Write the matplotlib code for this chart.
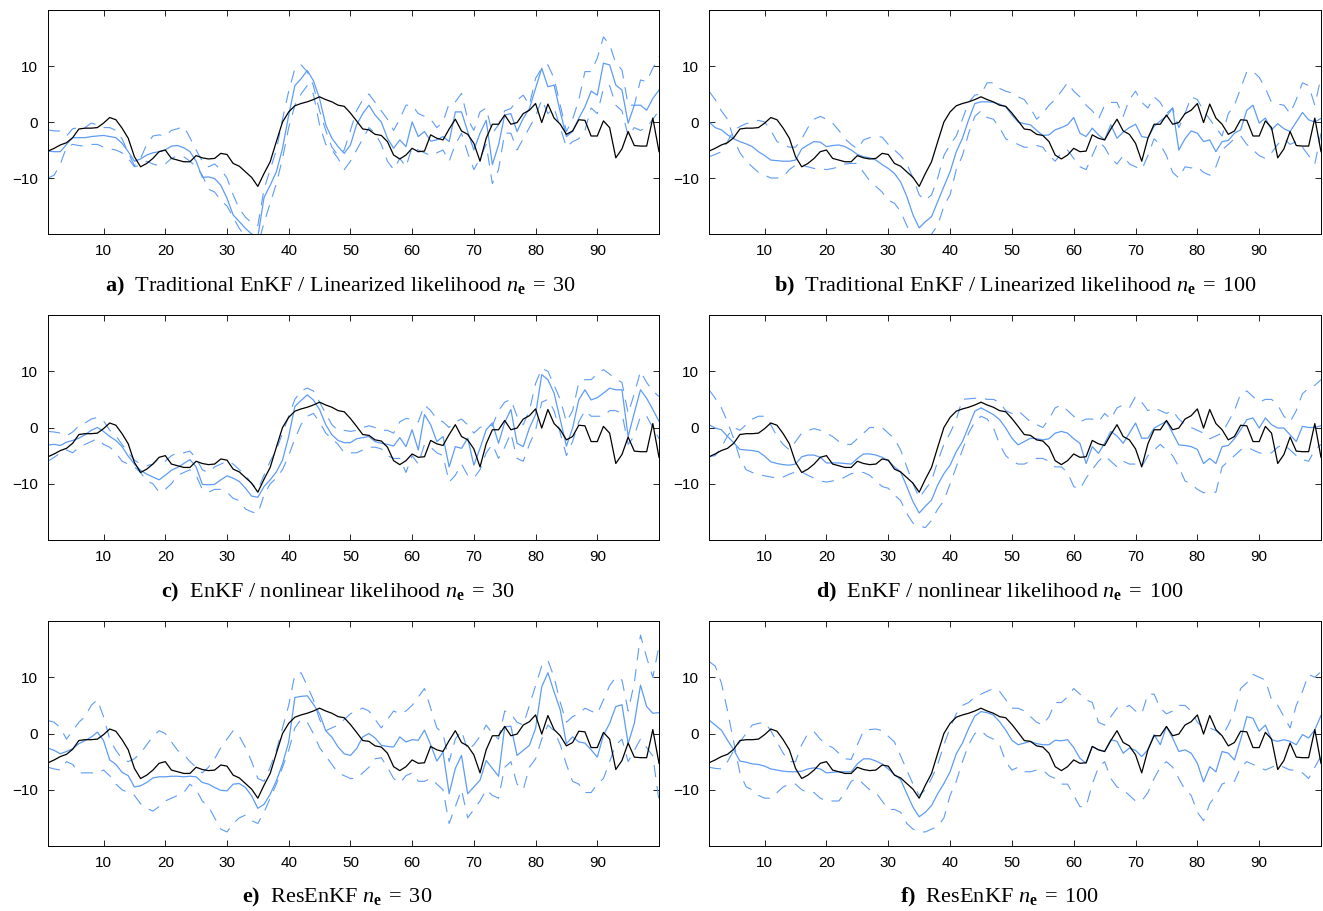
import matplotlib
matplotlib.use("Agg")
import matplotlib.pyplot as plt
import numpy as np

plt.rcParams['font.family'] = ['Liberation Sans', 'DejaVu Sans']
plt.rcParams['mathtext.fontset'] = 'custom'
plt.rcParams['mathtext.rm'] = 'Liberation Serif'
plt.rcParams['mathtext.it'] = 'Liberation Serif:italic'
plt.rcParams['mathtext.bf'] = 'Liberation Serif:bold'

x = np.arange(1, 101)

truth = [
    -5.2, -4.7, -4.1, -3.7, -2.8, -1.25, -1.1, -1.1, -1.0, -0.2,
    0.8, 0.4, -1.1, -2.9, -6.2, -8.0, -7.4, -6.5, -5.3, -5.0,
    -6.5, -6.8, -7.1, -7.1, -6.0, -6.4, -6.6, -6.5, -5.6, -5.8,
    -7.4, -7.9, -8.9, -9.9, -11.5, -9.2, -7.1, -3.5, 0.0, 1.8,
    2.9, 3.3, 3.6, 4.0, 4.5, 4.0, 3.6, 3.0, 2.8, 1.6,
    0.2, -1.25, -1.4, -2.2, -2.4, -3.5, -5.9, -6.6, -5.9, -4.7,
    -5.3, -5.2, -2.3, -2.9, -3.2, -1.25, 0.5, -1.6, -2.2, -3.8,
    -7.0, -2.9, -0.4, -0.4, 1.25, -0.4, -0.1, 1.5, 2.1, 3.3,
    -0.1, 3.2, 0.7, -0.4, -2.2, -1.6, 0.4, 0.3, -2.5, -2.5,
    0.2, -1.0, -6.4, -4.8, -1.7, -4.2, -4.3, -4.3, 0.7, -5.3]

# ---- panel a
mean_a = [
    -5.2, -5.3, -5.3, -4.0, -2.8, -2.8, -2.8, -2.6, -2.5, -2.4,
    -2.6, -2.8, -3.8, -5.3, -7.0, -6.6, -5.9, -5.5, -5.3, -5.0,
    -4.3, -4.2, -4.6, -5.3, -7.0, -9.9, -9.8, -10.1, -11.3, -13.6,
    -16.6, -17.8, -19.0, -20.0, -20.5, -13.5, -11.3, -8.9, -4.7, 1.2,
    6.5, 7.7, 9.2, 7.4, 4.2, -0.5, -2.9, -4.4, -5.6, -4.1,
    -0.5, 1.5, 3.0, 1.25, 0.0, -2.9, -4.7, -3.2, -4.4, 0.0,
    -2.6, -1.7, -3.4, -3.2, -2.6, -3.5, 1.8, 1.8, -1.7, -5.0,
    -2.0, 0.3, -7.6, -4.1, 1.25, 1.5, -1.7, 0.65, 2.4, 6.0,
    9.6, 6.3, 6.6, 1.8, -2.6, -1.7, 0.65, 2.7, 5.5, 4.8,
    10.5, 10.2, 6.6, 5.7, -0.2, 3.0, 3.0, 2.1, 4.2, 5.7]
dash1_a = [
    -1.4, -1.6, -1.6, -2.5, -1.2, -1.0, -1.0, -0.2, -0.5, -1.0,
    -1.0, -1.5, -3.0, -5.5, -7.8, -6.5, -4.0, -2.5, -2.3, -2.5,
    -1.5, -1.2, -0.8, -2.8, -5.0, -7.0, -8.0, -7.5, -8.5, -10.0,
    -13.0, -15.5, -17.0, -18.0, -18.5, -12.0, -8.5, -5.0, 0.5, 5.5,
    9.5, 10.2, 9.0, 6.5, 2.0, -1.5, -4.5, -6.0, -5.0, -1.5,
    2.0, 4.0, 5.0, 3.5, 2.0, 0.5, -1.5, 0.5, 3.0, 3.0,
    1.5, 1.0, 0.5, -1.0, 0.0, 3.3, 3.6, 5.1, 0.5, -1.5,
    1.8, 2.5, -2.0, -0.5, 2.0, 2.4, 3.9, 4.8, 3.0, 7.8,
    9.6, 10.2, 7.8, 3.0, -1.7, 0.5, 3.9, 9.0, 9.0, 11.4,
    15.2, 13.8, 10.5, 9.3, 3.0, 3.0, 7.5, 7.2, 9.6, 11.7]
dash2_a = [
    -10.0, -9.5, -7.5, -4.5, -4.0, -4.2, -4.3, -4.0, -4.0, -4.5,
    -4.8, -5.0, -5.5, -6.5, -8.0, -7.7, -7.0, -7.5, -7.8, -7.5,
    -6.5, -6.0, -6.2, -7.0, -8.0, -9.5, -12.0, -12.5, -14.0, -15.0,
    -17.0, -19.0, -20.5, -21.0, -22.0, -18.0, -14.5, -11.0, -6.5, -1.0,
    3.0, 5.0, 6.5, 5.0, -0.5, -4.0, -5.0, -6.5, -8.5, -7.0,
    -5.0, -3.0, -1.0, -2.0, -4.0, -7.0, -8.5, -6.5, -8.0, -4.5,
    -5.0, -5.5, -6.0, -5.5, -5.0, -7.0, -4.0, -2.0, -5.5, -8.5,
    -6.5, -4.0, -11.0, -8.5, -2.0, -2.0, -5.0, -3.0, -1.0, 1.0,
    4.0, 1.5, 2.5, -1.0, -4.5, -3.5, -3.0, -1.5, 2.5, 1.5,
    6.0, 6.5, 3.0, 2.0, -2.5, -1.0, -1.5, -1.0, 0.5, 2.0]

# ---- panel b
mean_b = [
    0.0, -1.0, -1.4, -2.3, -3.0, -3.5, -3.9, -4.4, -5.3, -6.0,
    -6.8, -6.9, -7.0, -7.0, -6.8, -4.8, -4.1, -3.5, -3.6, -4.4,
    -4.2, -4.1, -4.4, -5.0, -5.8, -6.2, -6.4, -6.8, -7.6, -8.3,
    -9.2, -10.7, -13.3, -16.6, -18.9, -17.8, -16.9, -14.2, -11.5, -8.9,
    -5.3, -2.9, 0.4, 3.3, 3.6, 3.6, 3.5, 3.2, 2.7, 1.25,
    0.0, -0.3, -0.5, -1.5, -2.4, -2.3, -1.4, -1.0, -0.5, 0.8,
    -2.0, -2.6, -1.1, -2.3, -3.2, -0.5, -2.9, -1.8, -1.0, -0.4,
    -2.6, -2.8, -0.8, 0.2, 1.0, 2.5, -5.0, -3.0, -1.6, -2.0,
    -3.5, -3.2, -5.3, -3.5, -3.3, -2.0, -1.4, 2.1, 3.0, -0.2,
    0.7, -1.4, -0.3, -1.2, -1.7, 0.0, 1.7, 0.4, 0.0, 0.65]
dash1_b = [
    5.5, 4.0, 2.0, 0.5, -3.0, -5.5, -7.0, -8.0, -9.0, -9.5,
    -10.0, -10.0, -9.8, -8.5, -7.7, -7.7, -8.0, -8.3, -8.3, -8.5,
    -8.3, -8.0, -7.5, -7.4, -7.4, -9.0, -10.5, -11.5, -12.5, -14.0,
    -14.5, -16.0, -18.5, -20.5, -21.5, -21.5, -20.0, -18.5, -15.0, -13.0,
    -8.5, -6.0, -2.0, 1.0, 2.0, 0.8, 0.5, -1.0, -3.0, -3.5,
    -4.0, -4.5, -4.5, -4.2, -4.5, -6.0, -7.0, -5.5, -5.0, -6.5,
    -8.0, -8.5, -6.0, -3.5, -4.5, -6.5, -7.5, -6.0, -7.5, -8.0,
    -8.5, -6.0, -3.0, -4.0, -6.0, -9.0, -10.0, -8.0, -8.2, -8.0,
    -9.0, -9.5, -8.0, -5.0, -4.0, -3.0, -2.5, -4.0, -5.0, -6.0,
    -6.5, -5.5, -4.0, -3.0, -4.0, -3.5, -4.5, -6.0, -7.5, -2.0]
dash2_b = [
    -6.2, -5.8, -5.3, -3.5, -1.5, -0.8, -0.3, 0.0, 0.3, 0.0,
    -1.5, -3.5, -4.0, -4.5, -4.5, -3.0, -1.0, 0.5, 1.0, 0.5,
    -0.2, -1.5, -3.0, -4.0, -4.8, -3.2, -2.8, -2.6, -2.7, -4.0,
    -5.0, -6.0, -7.5, -10.0, -13.0, -14.0, -13.0, -10.0, -6.0, -4.0,
    -2.5, 0.5, 3.5, 4.8, 5.0, 7.0, 7.0, 6.0, 5.5, 5.2,
    4.5, 4.0, 2.5, 0.5, 1.5, 3.0, 4.0, 5.5, 7.0, 5.5,
    4.5, 3.0, 2.0, 0.5, 3.0, 3.5, 3.5, 1.0, 4.0, 5.5,
    3.5, 2.5, 4.5, 3.5, 1.5, 2.5, -1.0, 1.5, 4.5, 4.0,
    2.0, 0.5, -1.0, -2.5, 1.5, 3.0, 6.0, 9.0, 9.0, 8.0,
    6.0, 3.5, 3.2, 3.0, 1.5, 4.0, 7.0, 6.5, 3.0, 8.0]

# ---- panel c
mean_c = [
    -3.1, -3.0, -3.2, -2.6, -2.3, -1.9, -1.3, -0.5, 0.0, -0.7,
    -1.6, -2.3, -3.4, -5.1, -6.5, -7.6, -8.3, -8.8, -9.3, -8.5,
    -7.6, -7.1, -6.4, -5.7, -7.0, -10.1, -10.2, -10.1, -9.3, -8.6,
    -9.0, -9.6, -10.8, -12.2, -12.4, -10.5, -9.3, -7.9, -5.8, -1.6,
    3.75, 4.8, 5.8, 4.9, 3.2, 0.5, -1.3, -2.3, -2.7, -2.7,
    -2.0, -1.8, -1.6, -2.5, -2.8, -3.0, -3.3, -1.8, -3.4, -0.4,
    -4.0, 2.3, 0.5, -2.5, -1.6, -7.0, -3.4, -3.7, -1.9, -6.7,
    -3.7, -0.4, 0.8, -2.8, 0.9, 3.2, -2.8, -3.4, -0.1, 2.3,
    9.4, 8.5, 6.1, 1.4, -3.3, -0.1, 4.9, 6.7, 4.9, 5.3,
    6.1, 7.0, 6.7, 6.7, -1.6, 2.6, 6.7, 5.2, 3.2, 1.1]
dash1_c = [
    -0.7, -0.8, -1.0, -1.5, -0.8, 0.3, 0.8, 1.5, 1.8, 1.2,
    -0.5, -1.5, -3.0, -4.5, -5.8, -6.5, -6.8, -6.5, -5.5, -6.0,
    -5.0, -4.5, -4.5, -4.2, -5.5, -7.5, -8.0, -7.0, -6.5, -6.0,
    -6.5, -7.5, -8.5, -10.0, -11.0, -8.5, -6.0, -4.0, -1.0, 2.0,
    5.0, 6.5, 7.0, 6.5, 4.5, 2.5, 0.5, -0.5, -0.5, -0.7,
    -0.5, 0.0, 0.3, 0.0, -0.5, -0.5, -1.0, 1.0, 1.6, 1.5,
    1.0, 4.0, 3.0, 1.5, 1.0, 0.0, 1.0, 1.5, 0.5, -1.0,
    0.0, 0.5, 0.3, 3.0, 4.5, 5.0, 2.0, 0.5, 3.0, 7.8,
    10.5, 10.0, 7.5, 5.0, 1.0, 3.0, 8.0, 8.5, 8.5, 9.5,
    10.3, 9.5, 8.6, 8.0, 2.5, 6.0, 10.0, 8.0, 6.5, 5.5]
dash2_c = [
    -6.0, -5.3, -4.5, -4.0, -4.5, -3.5, -3.0, -2.5, -2.0, -3.0,
    -3.5, -4.5, -6.0, -6.5, -7.0, -8.0, -9.5, -10.0, -11.5, -11.0,
    -10.0, -8.5, -8.0, -7.5, -8.5, -11.0, -11.5, -11.0, -11.0, -11.5,
    -12.6, -13.0, -14.5, -15.0, -15.3, -12.0, -10.0, -9.0, -7.5, -5.0,
    -2.0, 0.5, 2.0, 2.5, 1.0, -1.0, -2.0, -3.0, -4.5, -4.5,
    -4.5, -4.0, -3.5, -3.5, -3.8, -5.0, -5.5, -5.5, -8.0, -5.0,
    -6.5, -3.0, -3.5, -4.5, -5.0, -9.7, -8.5, -6.5, -8.5, -9.0,
    -7.5, -4.5, -3.0, -5.5, -3.5, -1.0, -5.5, -6.0, -3.0, -0.5,
    4.5, 5.0, 3.0, -1.0, -5.0, -2.5, 1.0, 3.0, 2.0, 2.0,
    2.0, 3.0, 3.0, 2.5, -3.0, -1.5, 2.0, 2.0, 0.0, -2.0]

# ---- panel d
mean_d = [
    0.5, -0.1, -0.4, -1.6, -2.7, -3.9, -4.0, -4.1, -4.3, -5.1,
    -6.1, -6.4, -6.6, -6.7, -6.5, -5.2, -4.9, -4.9, -5.3, -6.3,
    -6.3, -6.3, -6.4, -6.5, -5.5, -4.7, -4.7, -4.9, -5.3, -5.9,
    -7.0, -7.9, -10.5, -13.2, -15.2, -14.0, -12.9, -10.2, -8.2, -6.7,
    -4.3, -2.5, 0.2, 2.9, 3.5, 2.9, 2.3, 1.4, -0.1, -1.9,
    -3.1, -2.5, -1.9, -2.0, -2.2, -2.0, -1.0, -0.7, -1.0, -2.0,
    -2.8, -6.4, -3.4, -4.6, -2.8, -0.7, -1.5, -2.8, -1.0, 0.8,
    -1.9, -1.9, -0.1, 0.5, 1.1, -1.0, -3.1, -3.2, -3.4, -3.9,
    -6.4, -5.5, -6.4, -3.4, -3.2, -2.0, -0.4, 1.4, 1.7, -0.1,
    1.7, 0.5, -0.1, -0.1, -1.3, -2.5, 0.2, 0.0, 0.0, 0.3]
dash1_d = [
    6.7, 5.2, 3.5, 1.0, -2.0, -5.5, -7.5, -8.0, -8.3, -8.6,
    -8.8, -9.0, -8.8, -8.3, -7.9, -7.9, -8.5, -9.0, -9.5, -9.7,
    -9.5, -9.3, -8.8, -8.2, -8.0, -8.0, -8.5, -9.5, -10.5, -10.8,
    -12.0, -13.0, -15.3, -17.0, -17.5, -17.8, -16.5, -14.5, -13.0, -10.0,
    -7.0, -4.0, -1.0, 1.0, 2.0, 1.5, 0.0, -3.0, -5.0, -6.0,
    -6.5, -6.5, -6.0, -5.5, -5.5, -6.0, -7.0, -7.0, -8.0, -10.5,
    -11.0, -9.0, -7.5, -6.0, -5.0, -6.0, -7.0, -6.0, -6.5, -6.5,
    -7.0, -5.0, -4.0, -3.0, -4.0, -5.0, -7.0, -9.5, -10.0, -11.0,
    -11.6, -11.5, -11.5, -7.0, -6.0, -5.0, -4.0, -3.5, -4.0, -4.5,
    -4.7, -4.5, -3.5, -3.0, -4.0, -5.0, -5.7, -6.0, -4.0, -3.0]
dash2_d = [
    -5.2, -5.0, -3.5, -1.5, 0.0, -0.5, 0.5, 1.5, 2.0, 2.0,
    0.5, -1.6, -3.0, -4.0, -2.5, -1.0, -0.5, -0.2, -0.5, -1.0,
    -1.6, -2.5, -3.0, -3.0, -2.0, -1.0, 0.0, 0.0, 0.0, -1.0,
    -2.0, -4.0, -7.0, -10.0, -12.5, -11.0, -9.5, -6.0, -3.0, -1.0,
    1.4, 5.0, 5.1, 5.2, 5.3, 5.0, 5.0, 4.5, 3.0, 2.5,
    3.0, 2.0, 1.0, 0.5, 0.0, 1.5, 3.5, 4.0, 3.0, 2.0,
    1.0, 1.5, 1.5, 1.0, 2.5, 1.5, 3.5, 4.0, 3.5, 5.5,
    4.5, 3.0, 3.5, 3.0, 2.5, 3.0, 1.5, 0.5, 0.0, -0.5,
    -1.0, -2.0, -1.5, -1.0, 1.0, 3.0, 6.0, 6.5, 5.5, 4.5,
    5.0, 5.0, 4.0, 2.0, 1.0, 3.0, 6.0, 7.0, 7.5, 8.5]

# ---- panel e
mean_e = [
    -2.6, -3.0, -3.6, -3.2, -2.7, -1.8, -1.25, -0.65, 0.25, -1.25,
    -4.7, -5.5, -6.9, -7.5, -9.5, -9.3, -8.7, -7.9, -7.7, -7.7,
    -7.6, -7.6, -7.7, -7.6, -7.7, -8.7, -9.0, -9.6, -10.1, -10.2,
    -9.0, -8.9, -9.6, -11.1, -13.3, -12.6, -10.8, -8.4, -5.4, -1.5,
    6.4, 6.6, 6.7, 5.2, 3.5, 0.5, -0.65, -2.4, -3.6, -3.9,
    -2.7, -0.6, 0.0, -0.8, -2.1, -2.3, -2.4, -0.6, -1.5, -1.1,
    -1.2, 0.6, -2.0, -4.9, -3.3, -10.7, -6.2, -3.9, -10.7, -9.5,
    -8.3, -4.8, -6.2, -7.6, 1.2, 1.3, -3.9, -3.0, -2.1, 0.9,
    8.3, 10.8, 7.4, 4.2, -1.8, -0.6, -1.5, -1.7, -2.9, -4.2,
    -0.3, 1.8, 4.8, 5.1, -1.8, 1.8, 8.6, 4.8, 3.6, 3.7]
dash1_e = [
    2.3, 2.0, 1.0, -1.0, 0.5, 2.0, 3.0, 5.0, 6.0, 3.0,
    -1.0, -3.0, -4.5, -5.0, -4.5, -3.5, -2.0, -0.5, 0.5, 0.0,
    -1.5, -3.0, -3.7, -5.0, -6.0, -7.0, -6.0, -4.5, -2.5, -1.0,
    0.5, -0.5, -2.5, -5.0, -8.0, -8.5, -6.0, -3.0, 1.0, 5.0,
    10.5, 10.8, 8.5, 6.0, 2.5, 0.5, 1.0, 1.5, 2.5, 3.5,
    4.0, 4.5, 4.0, 2.5, 1.0, 2.5, 4.0, 3.5, 4.0, 5.0,
    6.5, 8.0, 4.5, 1.0, 0.0, -5.0, -1.0, 0.5, -3.0, -2.0,
    -0.5, 1.5, 0.0, -1.0, 4.0, 3.5, 2.0, 1.5, 5.0, 8.5,
    12.0, 13.0, 10.0, 5.5, 2.0, 3.0, 3.5, 4.5, 4.0, 3.5,
    6.0, 8.5, 10.0, 9.5, 4.0, 9.0, 17.5, 13.5, 10.0, 15.6]
dash2_e = [
    -6.0, -6.3, -6.5, -5.0, -5.5, -7.0, -7.0, -7.0, -7.0, -6.5,
    -7.5, -9.0, -10.0, -10.5, -11.0, -12.5, -13.3, -13.8, -13.0, -12.0,
    -11.5, -11.0, -10.5, -9.0, -10.0, -12.0, -13.0, -15.0, -17.0, -17.5,
    -16.0, -15.0, -14.5, -15.5, -16.0, -14.0, -11.5, -9.0, -6.0, -3.0,
    1.0, 2.5, 2.0, 0.0, -2.5, -4.0, -5.5, -7.0, -7.5, -8.0,
    -8.0, -7.0, -6.0, -4.5, -4.3, -6.0, -8.0, -8.8, -7.5, -7.0,
    -8.5, -8.5, -8.0, -9.0, -10.0, -16.0, -13.0, -10.0, -15.0, -13.5,
    -12.0, -10.0, -11.0, -11.5, -6.0, -5.0, -9.0, -10.0, -6.0, -4.5,
    -1.0, 1.5, 0.5, -2.0, -5.5, -8.5, -9.0, -10.5, -10.5, -9.0,
    -8.0, -5.0, -2.0, -1.0, -5.0, -3.0, -1.0, -2.5, -4.0, -12.0]

# ---- panel f
mean_f = [
    2.4, 1.5, 0.6, -1.2, -2.9, -4.9, -5.1, -5.4, -5.5, -5.8,
    -6.3, -6.5, -6.7, -6.8, -6.8, -6.7, -6.3, -6.1, -6.3, -7.0,
    -6.9, -6.8, -6.8, -6.8, -5.4, -4.5, -4.5, -4.9, -5.4, -6.3,
    -7.3, -8.2, -10.7, -13.1, -14.8, -14.0, -12.8, -10.7, -8.9, -6.8,
    -3.6, -1.7, 0.9, 3.1, 3.9, 3.7, 3.3, 2.1, 0.6, -1.2,
    -2.0, -1.7, -1.4, -1.8, -2.0, -2.0, -1.2, -1.3, -1.1, -2.5,
    -4.4, -5.3, -2.3, -2.9, -3.2, -1.1, -1.4, -3.5, -2.6, -3.0,
    -4.1, -2.9, -0.2, -2.0, 1.25, -0.8, -3.2, -2.9, -3.5, -5.3,
    -8.6, -5.9, -6.8, -3.2, -3.5, -4.7, -1.1, 3.0, 2.7, 0.4,
    1.5, -1.1, -1.4, -1.1, -1.4, -2.0, -0.2, -0.8, 0.65, 3.2]
dash1_f = [
    12.8, 12.0, 9.0, 4.0, -1.5, -7.0, -9.5, -10.0, -11.0, -11.5,
    -11.5, -10.5, -9.5, -9.0, -9.0, -10.0, -10.5, -10.5, -11.5, -12.0,
    -12.0, -12.0, -10.5, -8.5, -8.0, -9.0, -10.0, -10.5, -12.0, -13.5,
    -13.5, -14.0, -16.0, -17.0, -17.5, -17.5, -17.0, -16.5, -15.0, -11.0,
    -8.5, -5.0, -2.0, 0.0, 0.5, -0.5, -1.0, -2.0, -5.0, -6.5,
    -6.0, -6.8, -6.8, -6.5, -6.5, -7.5, -8.0, -9.0, -9.0, -11.0,
    -13.0, -13.0, -9.0, -6.0, -5.0, -8.0, -9.5, -10.0, -11.0, -12.0,
    -12.0, -10.5, -8.0, -6.0, -5.0, -6.0, -8.0, -10.0, -11.0, -14.0,
    -15.5, -12.5, -11.0, -9.0, -8.5, -8.5, -6.0, -5.0, -5.5, -6.0,
    -6.5, -6.0, -5.5, -6.0, -6.5, -6.5, -7.0, -8.0, -6.0, -4.0]
dash2_f = [
    -6.0, -6.2, -6.3, -5.0, -3.0, -1.5, 0.0, 1.5, 1.8, 2.0,
    0.5, -1.5, -3.5, -5.0, -5.0, -2.0, 0.0, 0.3, -1.0, -2.0,
    -2.5, -3.5, -4.5, -4.6, -2.0, 0.5, 0.7, 0.8, 0.5, -0.5,
    -1.5, -4.0, -6.5, -9.0, -11.0, -10.0, -8.0, -5.5, -2.0, 1.0,
    3.5, 5.0, 5.5, 6.5, 7.0, 7.5, 8.0, 7.5, 6.0, 4.5,
    4.5, 4.0, 3.0, 2.0, 1.5, 3.0, 5.5, 5.5, 6.5, 8.0,
    7.0, 6.0, 5.5, 2.0, 1.5, 3.0, 4.5, 4.5, 5.0, 4.0,
    3.5, 7.0, 7.0, 4.5, 3.5, 4.0, 5.0, 5.0, 4.0, 2.0,
    1.0, 1.0, 0.5, -0.5, 1.5, 4.0, 8.0, 9.0, 10.5, 10.0,
    9.5, 6.0, 5.0, 3.0, 1.0, 5.0, 7.5, 10.5, 10.0, 11.0]

xticks = [10, 20, 30, 40, 50, 60, 70, 80, 90]
yticks = [-10, 0, 10]

captions = [
    r"$\mathbf{a)}$  Traditional EnKF / Linearized likelihood $n_{\mathbf{e}}\;=\;30$",
    r"$\mathbf{b)}$  Traditional EnKF / Linearized likelihood $n_{\mathbf{e}}\;=\;100$",
    r"$\mathbf{c)}$  EnKF / nonlinear likelihood $n_{\mathbf{e}}\;=\;30$",
    r"$\mathbf{d)}$  EnKF / nonlinear likelihood $n_{\mathbf{e}}\;=\;100$",
    r"$\mathbf{e)}$  ResEnKF $n_{\mathbf{e}}\;=\;30$",
    r"$\mathbf{f)}$  ResEnKF $n_{\mathbf{e}}\;=\;100$",
]
caption_cx = [340, 1016, 338, 1000, 337, 999]
caption_cy = [286, 592, 897]

panels = [
    (mean_a, dash1_a, dash2_a),
    (mean_b, dash1_b, dash2_b),
    (mean_c, dash1_c, dash2_c),
    (mean_d, dash1_d, dash2_d),
    (mean_e, dash1_e, dash2_e),
    (mean_f, dash1_f, dash2_f),
]

W, H = 1323, 911
fig = plt.figure(figsize=(W / 100, H / 100), dpi=100)

cols = [(48, 659), (709, 1321)]
rows = [(10, 234), (315, 540), (621, 846)]

blue = '#5e9cf4'
for i, (mean, d1, d2) in enumerate(panels):
    r, c = divmod(i, 2)
    l, rr = cols[c]
    t, b = rows[r]
    ax = fig.add_axes([l / W, 1 - b / H, (rr - l) / W, (b - t) / H])
    ax.plot(x, d1, color=blue, lw=0.8, linestyle=(0, (11, 8)))
    ax.plot(x, d2, color=blue, lw=0.8, linestyle=(0, (11, 8)))
    ax.plot(x, mean, color=blue, lw=0.9)
    ax.plot(x, truth, color='black', lw=0.9)
    ax.set_xlim(1, 100)
    ax.set_ylim(-20, 20)
    ax.set_xticks(xticks)
    ax.set_yticks(yticks)
    ax.tick_params(direction='in', length=4, width=0.6, top=True, right=True,
                   labelsize=11, pad=7)
    for s in ax.spines.values():
        s.set_linewidth(0.7)
    fig.text(caption_cx[i] / W, 1 - caption_cy[r] / H, captions[i],
             ha='center', va='center', fontsize=16,
             family=['Liberation Serif', 'DejaVu Serif'])

fig.savefig('out.png', dpi=100)
